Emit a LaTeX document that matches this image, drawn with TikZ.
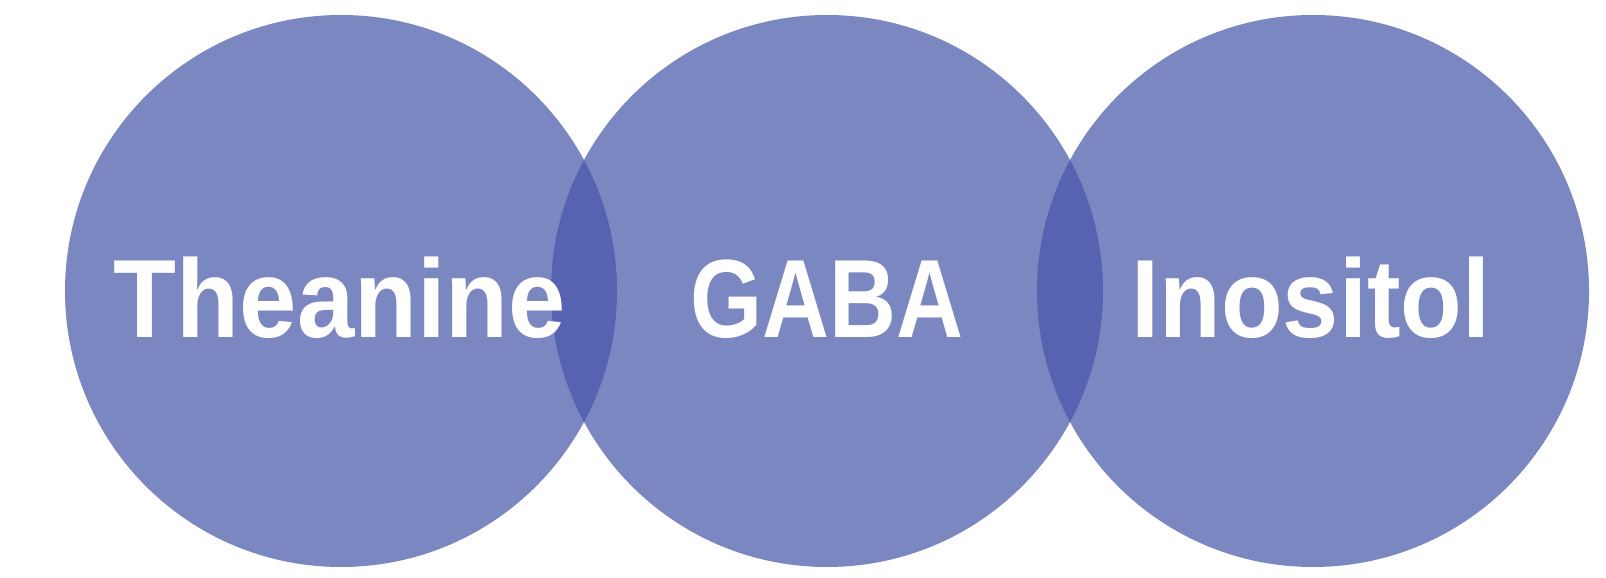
\documentclass[tikz,border=0pt]{standalone}
\usepackage{fontspec}
\usepackage{graphicx}
\setmainfont{Liberation Sans}
\definecolor{circfill}{RGB}{123,135,192}
\definecolor{lensfill}{RGB}{86,99,176}
\begin{document}
\begin{tikzpicture}[x=1pt,y=1pt,
  circ/.style={fill=circfill,draw=none},
  lbl/.style={text=white,font=\fontsize{103}{103}\selectfont\bfseries,anchor=base,inner sep=0pt}]
\useasboundingbox (0,0) rectangle (1606,578);
\fill[white] (0,0) rectangle (1606,578);
\coordinate (cl) at (341,287);
\coordinate (cm) at (827,287);
\coordinate (cr) at (1313,287);
\fill[circ] (cl) circle (276);
\fill[circ] (cm) circle (276);
\fill[circ] (cr) circle (276);
\begin{scope}
\clip (cl) circle (276);
\fill[lensfill] (cm) circle (276);
\end{scope}
\begin{scope}
\clip (cm) circle (276);
\fill[lensfill] (cr) circle (276);
\end{scope}
\node[lbl] (t1) at (340,240) {\scalebox{1}[1.08]{Theanine}};
\node[lbl] (t2) at (827,240) {\scalebox{0.9}[1.08]{GABA}};
\node[lbl] (t3) at (1311,240) {\scalebox{0.98}[1.08]{Inositol}};
\end{tikzpicture}
\end{document}
